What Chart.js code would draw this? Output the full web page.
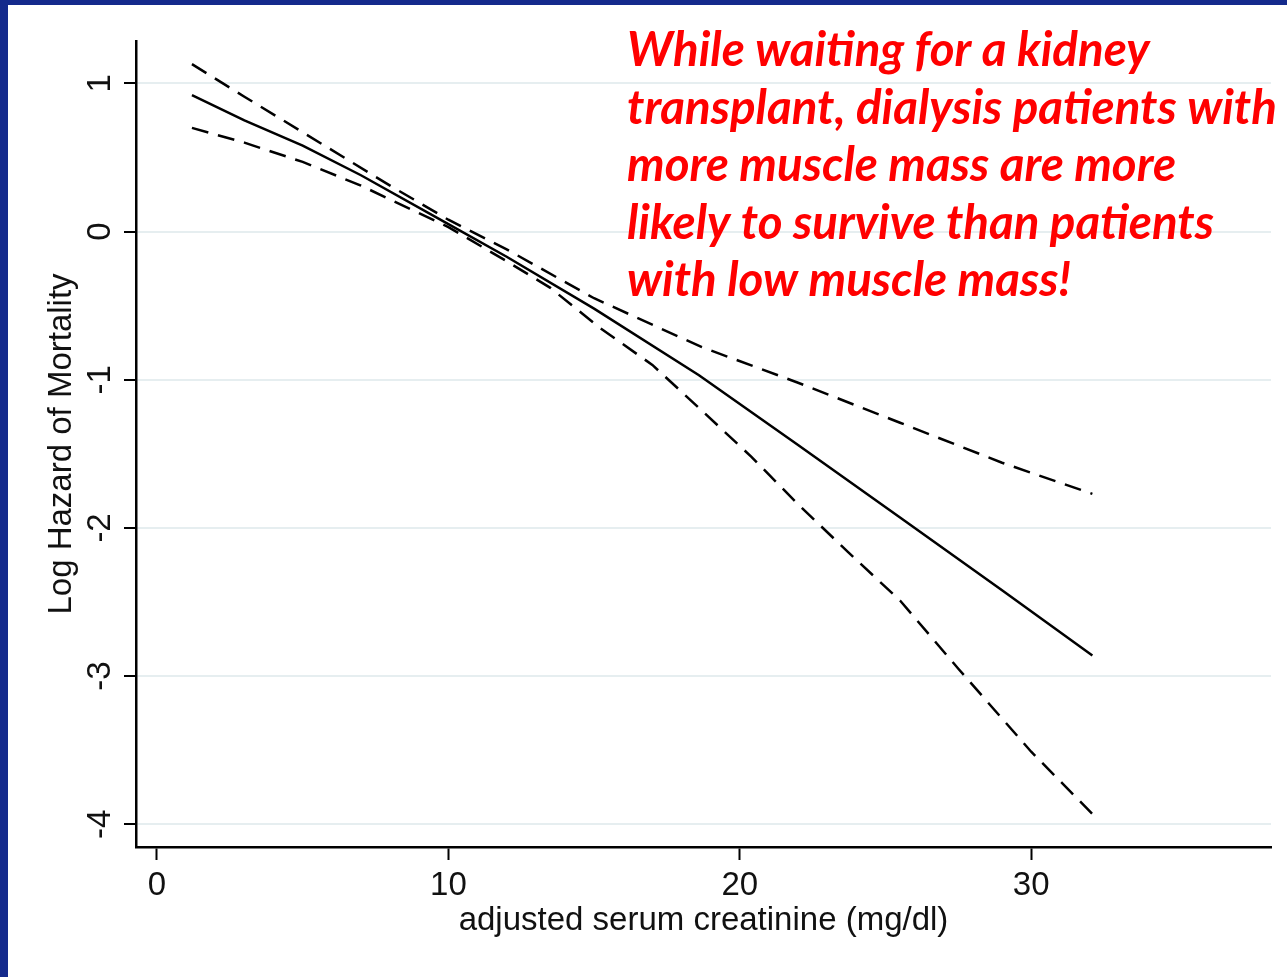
<!DOCTYPE html>
<html>
<head>
<meta charset="utf-8">
<title>Log hazard of mortality vs adjusted serum creatinine</title>
<script src="https://cdn.jsdelivr.net/npm/chart.js@4.4.1/dist/chart.umd.min.js"></script>
<style>
  html, body { margin: 0; padding: 0; background: #fff; }
  #frame {
    position: absolute; left: 0; top: 0;
    width: 1279px; height: 972px;
    border-left: 8px solid #142a8c;
    border-top: 5px solid #142a8c;
    background: #fff;
  }
  #chart { display: block; }
</style>
</head>
<body>
<div id="frame"><canvas id="chart" width="1279" height="972"></canvas></div>
<script>
// ── Data ─────────────────────────────────────────────────────────────────────
// Fitted log hazard curve
const fitX   = [1.2, 3, 5, 7, 10, 12, 15, 18.6, 22, 25.5, 29, 32.1];
const fitY   = [0.92, 0.75, 0.58, 0.38, 0.05, -0.17, -0.52, -0.97, -1.44, -1.93, -2.42, -2.86];

// Upper confidence bound (dashed)
const upperX = [1.2, 3, 5, 8, 10, 12, 15, 18.7, 22, 25.5, 29, 32.1];
const upperY = [1.13, 0.91, 0.67, 0.31, 0.08, -0.12, -0.45, -0.78, -1.02, -1.29, -1.56, -1.77];

// Lower confidence bound (dashed)
const lowerX = [1.2, 3, 5, 7, 10, 12, 13.5, 15.2, 17, 18.6, 20.4, 22, 23.7, 25.5, 27.5, 30, 32.1];
const lowerY = [0.70, 0.60, 0.47, 0.31, 0.03, -0.20, -0.38, -0.65, -0.90, -1.19, -1.52, -1.84, -2.16, -2.49, -2.95, -3.51, -3.93];

// Axis ticks
const xTicks = [0, 10, 20, 30];
const yTicks = [1, 0, -1, -2, -3, -4];

const xTitle = "adjusted serum creatinine (mg/dl)";
const yTitle = "Log Hazard of Mortality";

const noteLines = [
  "While waiting for a kidney",
  "transplant, dialysis patients with",
  "more muscle mass are more",
  "likely to survive than patients",
  "with low muscle mass!"
];

// ── Helpers ──────────────────────────────────────────────────────────────────
const toPoints = (xs, ys) => xs.map((x, i) => ({ x, y: ys[i] }));

const AXIS_FONT = { family: "'Liberation Sans', Arial, sans-serif", size: 33 };

// Red annotation in the upper right, bold italic, fitted to its original width
const notePlugin = {
  id: "note",
  afterDraw(chart) {
    const ctx = chart.ctx;
    const family = "Lato, 'Open Sans', sans-serif";
    ctx.save();
    ctx.font = `italic bold 40px ${family}`;
    const widest = Math.max(...noteLines.map(l => ctx.measureText(l).width));
    const size = 40 * 650 / widest;
    ctx.font = `italic bold ${size}px ${family}`;
    ctx.fillStyle = "#ff0000";
    ctx.textBaseline = "alphabetic";
    ctx.textAlign = "left";
    noteLines.forEach((line, i) => ctx.fillText(line, 619, 61 + i * 57.5));
    ctx.restore();
  }
};

const lineStyle = {
  showLine: true,
  pointRadius: 0,
  borderColor: "#000",
  borderWidth: 2.5,
  tension: 0,
  fill: false
};

new Chart(document.getElementById("chart").getContext("2d"), {
  type: "scatter",
  data: {
    datasets: [
      { ...lineStyle, label: "fit",   data: toPoints(fitX, fitY) },
      { ...lineStyle, label: "upper", data: toPoints(upperX, upperY), borderDash: [17, 10] },
      { ...lineStyle, label: "lower", data: toPoints(lowerX, lowerY), borderDash: [17, 10] }
    ]
  },
  options: {
    responsive: false,
    devicePixelRatio: 1,
    animation: false,
    layout: { padding: { left: 0, top: 36, right: 16, bottom: 0 } },
    plugins: { legend: { display: false }, tooltip: { enabled: false } },
    scales: {
      x: {
        type: "linear",
        min: -0.72,
        max: 38.23,
        afterBuildTicks: s => { s.ticks = xTicks.map(v => ({ value: v })); },
        afterFit: s => { s.height = 130; },
        grid: { color: "transparent", tickColor: "#000", tickWidth: 2, tickLength: 13, drawOnChartArea: false },
        border: { color: "#000", width: 2.5 },
        ticks: { color: "#111", font: AXIS_FONT, padding: 6, maxRotation: 0 },
        title: { display: true, text: xTitle, color: "#111", font: AXIS_FONT, padding: { top: 0, bottom: 36 } }
      },
      y: {
        type: "linear",
        min: -4.153,
        max: 1.286,
        afterBuildTicks: s => { s.ticks = yTicks.map(v => ({ value: v })); },
        afterFit: s => { s.width = 128; },
        grid: { color: "#e6eef0", lineWidth: 2, tickColor: "#000", tickWidth: 2, tickLength: 12 },
        border: { color: "#000", width: 2.5 },
        ticks: { color: "#111", font: AXIS_FONT, padding: 8, minRotation: 90, maxRotation: 90, crossAlign: "center" },
        title: { display: true, text: yTitle, color: "#111", font: AXIS_FONT, padding: { top: 34, bottom: 0 } }
      }
    }
  },
  plugins: [notePlugin]
});
</script>
</body>
</html>
